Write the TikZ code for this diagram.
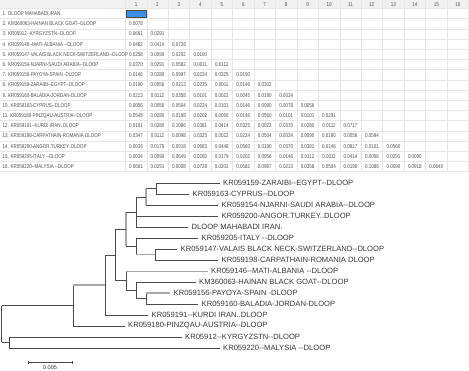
\documentclass[tikz,border=0pt]{standalone}
\usepackage{fontspec}
\setmainfont{Liberation Sans}[Ligatures=TeXOff]
\newfontfamily\tabfont{Liberation Sans}[FakeStretch=0.8,Ligatures=TeXOff]
\definecolor{gridc}{HTML}{E6E6E6}
\definecolor{headbg}{HTML}{F0F0F0}
\definecolor{tabtxt}{HTML}{505050}
\definecolor{treetxt}{HTML}{383838}
\definecolor{brc}{HTML}{4A4A4A}
\definecolor{brgc}{HTML}{A8A8A8}
\definecolor{selc}{HTML}{3A8EE6}
\tikzset{
  gridline/.style={draw=gridc, line width=0.5pt},
  hdr/.style={font=\tabfont\fontsize{5.6}{6}\selectfont, text=tabtxt, inner sep=0pt},
  lab/.style={font=\tabfont\fontsize{5.6}{6}\selectfont, text=tabtxt, inner sep=0pt, anchor=west},
  num/.style={font=\tabfont\fontsize{5.6}{6}\selectfont, text=tabtxt, inner sep=0pt},
  leaf/.style={font=\fontsize{7.6}{9}\selectfont, text=treetxt, inner sep=0pt, anchor=west},
  br/.style={draw=brc, line width=0.65pt},
  brg/.style={draw=brgc, line width=1.1pt},
}
\begin{document}
\begin{tikzpicture}[x=1pt,y=-1pt]
\useasboundingbox (0,0) rectangle (469,370);
\fill[white] (0,0) rectangle (469,370);
% ---------- table ----------
\fill[headbg] (0,0) rectangle (469,8.5);
\foreach \k in {0,...,16} {
  \draw[gridline] (0,{8.5+10.2*\k}) -- (469,{8.5+10.2*\k});
  \draw[gridline] ({125.3+21.45*\k},0) -- ({125.3+21.45*\k},171.7);
}
\foreach \c in {1,...,16} {
  \node[hdr] (h\c) at ({136+21.45*(\c-1)},4.4) {\c};
}
\fill[selc] (126.3,10) rectangle (146.5,17.6);
\draw[black!70, line width=0.5pt] (126.3,10) rectangle (146.5,17.6);
\foreach \t [count=\r] in {
  {1. DLOOP MAHABADI IRAN.},
  {2. KM360063-HAINAN BLACK GOAT--DLOOP},
  {3. KR05912--KYRGYZSTN--DLOOP},
  {4. KR059146--MATI-ALBANIA --DLOOP},
  {5. KR059147-VALAIS BLACK NECK-SWITZERLAND--DLOOP},
  {6. KR059154-NJARNI-SAUDI ARABIA--DLOOP},
  {7. KR059156-PAYOYA-SPAIN -DLOOP},
  {8. KR059159-ZARAIBI--EGYPT--DLOOP},
  {9. KR059160-BALADIA-JORDAN-DLOOP},
  {10. KR059163-CYPRUS--DLOOP},
  {11. KR059180-PINZQAU-AUSTRIA--DLOOP},
  {12. KR059191--KURDI IRAN..DLOOP},
  {13. KR059198-CARPATHAIN-ROMANIA DLOOP},
  {14. KR059200-ANGOR.TURKEY..DLOOP},
  {15. KR059205-ITALY --DLOOP},
  {16. KR059220--MALYSIA --DLOOP}} {
  \node[lab] (r\r) at (2.5,{8.5+10.2*(\r-0.5)}) {\t};
}
\foreach \r/\vals in {
  2/{0.0078},
  3/{0.0661,0.0291},
  4/{0.0482,0.0414,0.0728},
  5/{0.0258,0.0090,0.0202,0.0190},
  6/{0.0370,0.0291,0.0582,0.0011,0.0112},
  7/{0.0146,0.0280,0.0997,0.0224,0.0325,0.0190},
  8/{0.0190,0.0056,0.0213,0.0235,0.0011,0.0146,0.0302},
  9/{0.0213,0.0112,0.0358,0.0101,0.0022,0.0045,0.0190,0.0034},
  10/{0.0056,0.0056,0.0504,0.0224,0.0101,0.0146,0.0090,0.0078,0.0056},
  11/{0.0548,0.0280,0.0198,0.0202,0.0056,0.0146,0.0560,0.0101,0.0101,0.0291},
  12/{0.0101,0.0280,0.1086,0.0381,0.0414,0.0325,0.0022,0.0370,0.0280,0.0112,0.0717},
  13/{0.0347,0.0112,0.0098,0.0325,0.0022,0.0224,0.0504,0.0034,0.0090,0.0190,0.0056,0.0594},
  14/{0.0034,0.0179,0.0918,0.0683,0.0448,0.0560,0.0190,0.0370,0.0381,0.0146,0.0817,0.0101,0.0560},
  15/{0.0034,0.0090,0.0649,0.0280,0.0179,0.0202,0.0056,0.0146,0.0112,0.0011,0.0414,0.0056,0.0291,0.0090},
  16/{0.0661,0.0291,0.0008,0.0728,0.0202,0.0582,0.0987,0.0213,0.0358,0.0504,0.0190,0.1086,0.0090,0.0918,0.0649}} {
  \foreach \v [count=\c] in \vals {
    \node[num] (v\r-\c) at ({136+21.45*(\c-1)},{8.5+10.2*(\r-0.5)}) {\v};
  }
}
% ---------- tree ----------
\node[leaf] (zar) at (223,183.3)    {KR059159-ZARAIBI--EGYPT--DLOOP};
\node[leaf] (cyp) at (192.5,194.27) {KR059163-CYPRUS--DLOOP};
\node[leaf] (nja) at (221.5,205.24) {KR059154-NJARNI-SAUDI ARABIA--DLOOP};
\node[leaf] (ang) at (221.5,216.21) {KR059200-ANGOR.TURKEY..DLOOP};
\node[leaf] (mah) at (191.5,227.18) {DLOOP MAHABADI IRAN.};
\node[leaf] (ita) at (201.5,238.15) {KR059205-ITALY --DLOOP};
\node[leaf] (val) at (180.5,249.12) {KR059147-VALAIS BLACK NECK-SWITZERLAND--DLOOP};
\node[leaf] (car) at (221.5,260.09) {KR059198-CARPATHAIN-ROMANIA DLOOP};
\node[leaf] (mat) at (211,271.06) {KR059146--MATI-ALBANIA --DLOOP};
\node[leaf] (hai) at (199,282.03) {KM360063-HAINAN BLACK GOAT--DLOOP};
\node[leaf] (pay) at (173.5,293.0) {KR059156-PAYOYA-SPAIN -DLOOP};
\node[leaf] (bal) at (201.5,303.97) {KR059160-BALADIA-JORDAN-DLOOP};
\node[leaf] (kur) at (151.5,314.94) {KR059191--KURDI IRAN..DLOOP};
\node[leaf] (pin) at (128,325.91) {KR059180-PINZQAU-AUSTRIA--DLOOP};
\node[leaf] (kyr) at (185,336.88) {KR05912--KYRGYZSTN--DLOOP};
\node[leaf] (mal) at (223,347.85) {KR059220--MALYSIA --DLOOP};
% internal nodes
\coordinate (n1) at (156,188.8);
\coordinate (n2) at (146,197.0);
\coordinate (n3) at (136,212.1);
\coordinate (n5) at (155,254.6);
\coordinate (nA) at (136,246.4);
\coordinate (n4) at (126,229.25);
\coordinate (n7) at (146,298.5);
\coordinate (n8) at (136,290.3);
\coordinate (n9) at (126,280.7);
\coordinate (n10) at (115,255);
\coordinate (n11) at (105,285);
\coordinate (n12) at (73.3,305.5);
\coordinate (nB) at (9.3,342.4);
\coordinate (rt) at (1.7,323.9);
% n1
\draw[br] (n1 |- zar.west) -- (n1 |- cyp.west);
\draw[br] (n1 |- zar.west) -- ([xshift=-3.5pt]zar.west);
\draw[br] (n1 |- cyp.west) -- ([xshift=-3.5pt]cyp.west);
% n2
\draw[brg] (n2 |- n1) -- (n2 |- nja.west);
\draw[br] (n2 |- n1) -- (n1);
\draw[br] (n2 |- nja.west) -- ([xshift=-3.5pt]nja.west);
% n3
\draw[br] (n3 |- n2) -- (n3 |- mah.west);
\draw[br] (n3 |- n2) -- (n2);
\draw[br] (n3 |- ang.west) -- ([xshift=-3.5pt]ang.west);
\draw[br] (n3 |- mah.west) -- ([xshift=-3.5pt]mah.west);
% n5
\draw[br] (n5 |- val.west) -- (n5 |- car.west);
\draw[br] (n5 |- val.west) -- ([xshift=-3.5pt]val.west);
\draw[br] (n5 |- car.west) -- ([xshift=-3.5pt]car.west);
% nA
\draw[br] (nA |- ita.west) -- (nA |- n5);
\draw[br] (nA |- ita.west) -- ([xshift=-3.5pt]ita.west);
\draw[brg] (nA |- n5) -- (n5);
% n4
\draw[brg] (n4 |- n3) -- (n4 |- nA);
\draw[br] (n4 |- n3) -- (n3);
\draw[br] (n4 |- nA) -- (nA);
% n7
\draw[br] (n7 |- pay.west) -- (n7 |- bal.west);
\draw[brg] (n7 |- pay.west) -- ([xshift=-3.5pt]pay.west);
\draw[br] (n7 |- bal.west) -- ([xshift=-3.5pt]bal.west);
% n8
\draw[br] (n8 |- hai.west) -- (n8 |- n7);
\draw[br] (n8 |- hai.west) -- ([xshift=-3.5pt]hai.west);
\draw[br] (n8 |- n7) -- (n7);
% n9
\draw[br] (n9 |- mat.west) -- (n9 |- n8);
\draw[brg] (n9 |- mat.west) -- ([xshift=-3.5pt]mat.west);
\draw[br] (n9 |- n8) -- (n8);
% n10
\draw[br] (n10 |- n4) -- (n10 |- n9);
\draw[br] (n10 |- n4) -- (n4);
\draw[br] (n10 |- n9) -- (n9);
% n11
\draw[br] (n11 |- n10) -- (n11 |- kur.west);
\draw[br] (n11 |- n10) -- (n10);
\draw[br] (n11 |- kur.west) -- ([xshift=-3.5pt]kur.west);
% n12
\draw[br] (n12 |- n11) -- (n12 |- pin.west);
\draw[brg] (n12 |- n11) -- (n11);
\draw[br] (n12 |- pin.west) -- ([xshift=-3.5pt]pin.west);
% nB
\draw[br] (nB |- kyr.west) -- (nB |- mal.west);
\draw[br] (nB |- kyr.west) -- ([xshift=-3.5pt]kyr.west);
\draw[br] (nB |- mal.west) -- ([xshift=-3.5pt]mal.west);
% root
\draw[br] (rt |- n12) -- (rt |- nB);
\draw[br] (rt |- n12) -- (n12);
\draw[br] (rt |- nB) -- (nB);
% scale bar
\coordinate (sbl) at (28.3,362.7);
\coordinate (sbr) at (72.7,362.7);
\draw[br] (sbl) -- (sbr);
\draw[br] ([yshift=1.5pt]sbl) -- ([yshift=-1.5pt]sbl);
\draw[br] ([yshift=1.5pt]sbr) -- ([yshift=-1.5pt]sbr);
\node[font=\fontsize{5.6}{6}\selectfont, text=treetxt, inner sep=0pt] (sbt) at (50,368) {0.005};
\end{tikzpicture}
\end{document}
